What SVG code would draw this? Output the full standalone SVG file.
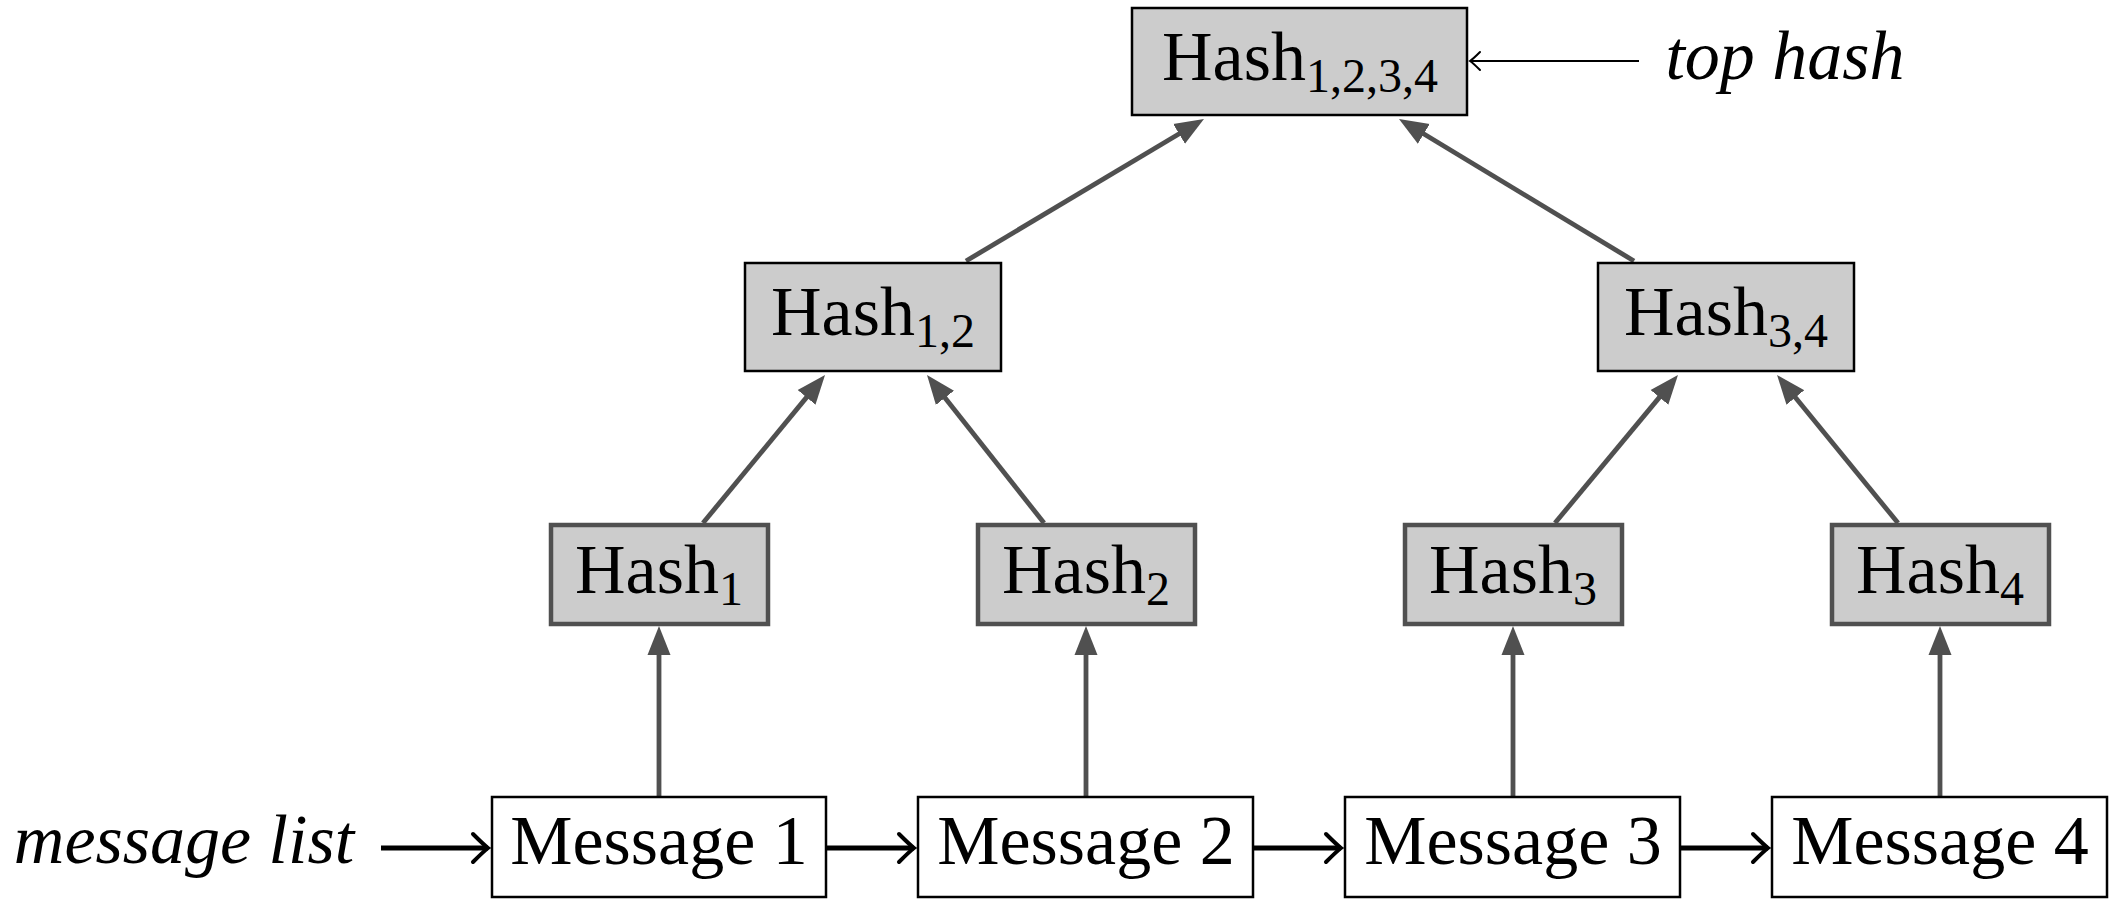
<svg xmlns="http://www.w3.org/2000/svg" width="2124" height="916" viewBox="0 0 2124 916">
<style>
text{font-family:"Liberation Serif","DejaVu Serif",serif;font-size:70px;fill:#000;text-anchor:middle}
.it{font-style:italic}
.sub{font-size:48px}
.hs{fill:#cccccc;stroke:#505050;stroke-width:4.5}
.ht{fill:#cccccc;stroke:#000;stroke-width:2.5}
.msg{fill:#fff;stroke:#000;stroke-width:2.5}
.g{stroke:#505050;stroke-width:4.8;fill:none}
.b{stroke:#000;stroke-width:4.8;fill:none}
.bt{stroke:#000;stroke-width:2;fill:none}
</style>
<defs>
<marker id="tri" markerUnits="userSpaceOnUse" markerWidth="34" markerHeight="28" viewBox="0 -14 34 28" refX="9" refY="0" orient="auto">
<path d="M0,-11.5 L29,0 L0,11.5 Z" fill="#505050"/>
</marker>
<marker id="open" markerUnits="userSpaceOnUse" markerWidth="24" markerHeight="36" viewBox="-20 -18 24 36" refX="0" refY="0" orient="auto">
<path d="M-15,-14 Q-4,-3 0,0 Q-4,3 -15,14" fill="none" stroke="#000" stroke-width="4" stroke-linecap="round"/>
</marker>
<marker id="openthin" markerUnits="userSpaceOnUse" markerWidth="20" markerHeight="24" viewBox="-14 -12 20 24" refX="0" refY="0" orient="auto">
<path d="M-10,-9 Q-3,-2 0,0 Q-3,2 -10,9" fill="none" stroke="#000" stroke-width="2" stroke-linecap="round"/>
</marker>
</defs>
<g id="connectors">
<line class="g" x1="659" y1="797" x2="659" y2="646" marker-end="url(#tri)"/>
<line class="g" x1="1086" y1="797" x2="1086" y2="646" marker-end="url(#tri)"/>
<line class="g" x1="1513" y1="797" x2="1513" y2="646" marker-end="url(#tri)"/>
<line class="g" x1="1940" y1="797" x2="1940" y2="646" marker-end="url(#tri)"/>
<line class="g" x1="703" y1="523" x2="812.3" y2="390.4" marker-end="url(#tri)"/>
<line class="g" x1="1044" y1="523" x2="939.4" y2="390.7" marker-end="url(#tri)"/>
<line class="g" x1="1555" y1="523" x2="1665.2" y2="390.4" marker-end="url(#tri)"/>
<line class="g" x1="1898" y1="523" x2="1789.7" y2="390.5" marker-end="url(#tri)"/>
<line class="g" x1="966" y1="261" x2="1186.8" y2="129.2" marker-end="url(#tri)"/>
<line class="g" x1="1634" y1="261" x2="1416.1" y2="129.3" marker-end="url(#tri)"/>
<line class="bt" x1="1639" y1="61" x2="1470" y2="61" marker-end="url(#openthin)"/>
<line class="b" x1="381" y1="848" x2="488" y2="848" marker-end="url(#open)"/>
<line class="b" x1="826" y1="848" x2="914" y2="848" marker-end="url(#open)"/>
<line class="b" x1="1253" y1="848" x2="1341" y2="848" marker-end="url(#open)"/>
<line class="b" x1="1680" y1="848" x2="1768" y2="848" marker-end="url(#open)"/>
</g>
<g id="hash1234">
<rect class="ht" x="1132" y="8" width="335" height="107"/>
<text x="1300" y="80">Hash<tspan class="sub" dy="12">1,2,3,4</tspan></text>
</g>
<g id="tophash-label">
<text class="it" x="1785" y="79">top hash</text>
</g>
<g id="hash12">
<rect class="ht" x="745" y="263" width="256" height="108"/>
<text x="873" y="335">Hash<tspan class="sub" dy="12">1,2</tspan></text>
</g>
<g id="hash34">
<rect class="ht" x="1598" y="263" width="256" height="108"/>
<text x="1726" y="335">Hash<tspan class="sub" dy="12">3,4</tspan></text>
</g>
<g id="hash1">
<rect class="hs" x="551" y="525" width="217" height="99"/>
<text x="659" y="593">Hash<tspan class="sub" dy="12">1</tspan></text>
</g>
<g id="hash2">
<rect class="hs" x="978" y="525" width="217" height="99"/>
<text x="1086" y="593">Hash<tspan class="sub" dy="12">2</tspan></text>
</g>
<g id="hash3">
<rect class="hs" x="1405" y="525" width="217" height="99"/>
<text x="1513" y="593">Hash<tspan class="sub" dy="12">3</tspan></text>
</g>
<g id="hash4">
<rect class="hs" x="1832" y="525" width="217" height="99"/>
<text x="1940" y="593">Hash<tspan class="sub" dy="12">4</tspan></text>
</g>
<g id="msglist-label">
<text class="it" x="184" y="863">message list</text>
</g>
<g id="message1">
<rect class="msg" x="492" y="797" width="334" height="100"/>
<text x="659" y="864">Message 1</text>
</g>
<g id="message2">
<rect class="msg" x="918" y="797" width="335" height="100"/>
<text x="1086" y="864">Message 2</text>
</g>
<g id="message3">
<rect class="msg" x="1345" y="797" width="335" height="100"/>
<text x="1513" y="864">Message 3</text>
</g>
<g id="message4">
<rect class="msg" x="1772" y="797" width="335" height="100"/>
<text x="1940" y="864">Message 4</text>
</g>
</svg>
